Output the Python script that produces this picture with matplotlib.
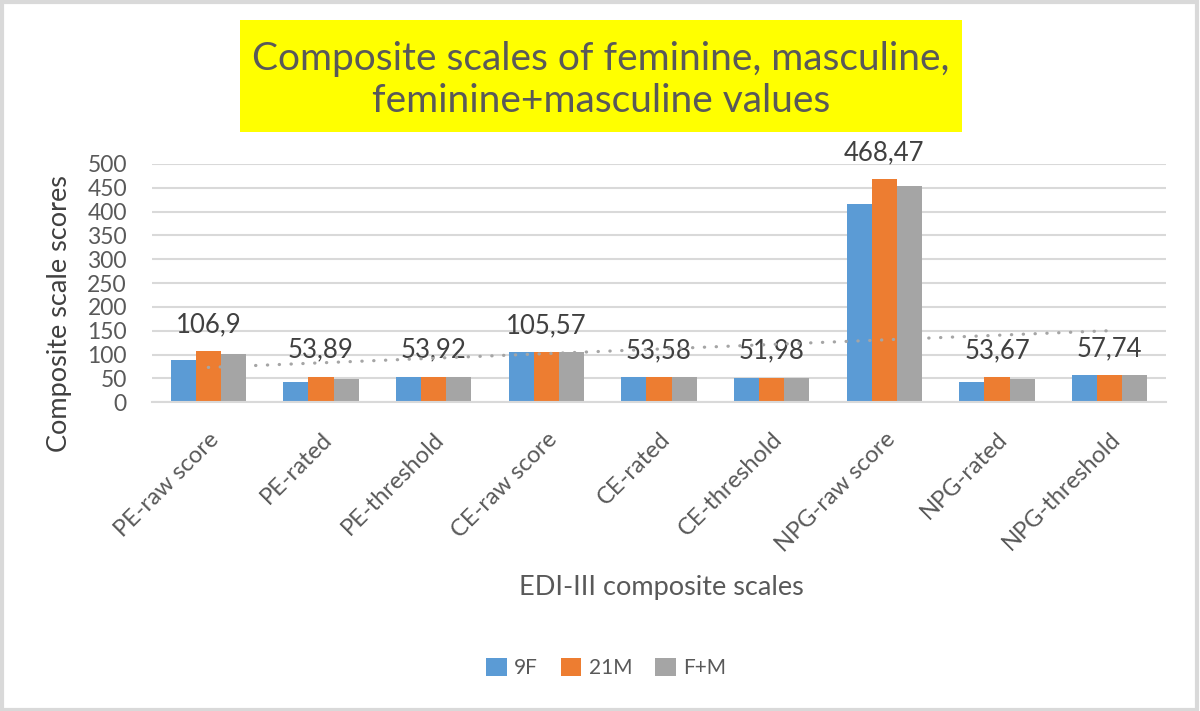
import numpy as np
import matplotlib
matplotlib.use("Agg")
import matplotlib.pyplot as plt
from matplotlib.patches import Rectangle

plt.rcParams['font.family'] = ['Lato', 'DejaVu Sans']

categories = ["PE-raw score", "PE-rated", "PE-threshold", "CE-raw score", "CE-rated",
              "CE-threshold", "NPG-raw score", "NPG-rated", "NPG-threshold"]
series_names = ["9F", "21M", "F+M"]
vals_9f = [89, 43.3, 53.92, 105.57, 53.58, 51.98, 416.6, 43.0, 57.74]
vals_21m = [106.9, 53.89, 53.92, 105.57, 53.58, 51.98, 468.47, 53.67, 57.74]
vals_fm = [100.8, 49.6, 53.92, 105.57, 53.58, 51.98, 453.0, 49.5, 57.74]
label_texts = ["106,9", "53,89", "53,92", "105,57", "53,58", "51,98", "468,47", "53,67", "57,74"]
yticks = [0, 50, 100, 150, 200, 250, 300, 350, 400, 450, 500]

colors = ["#5B9BD5", "#ED7D31", "#A5A5A5"]
txt = "#595959"

fig = plt.figure(figsize=(12, 7.11), dpi=100)
ax = fig.add_axes([152/1200, 1-402.3/711, (1166-152)/1200, (402.3-164)/711])

x = np.arange(len(categories))
w = 0.222
conts = []
for i, (vals, c, n) in enumerate(zip([vals_9f, vals_21m, vals_fm], colors, series_names)):
    b = ax.bar(x + (i-1)*w, vals, width=w, color=c, label=n, zorder=2)
    conts.append(b)

ax.bar_label(conts[1], labels=label_texts, padding=10, fontsize=18.5, color="#404040")

# linear trendline for 21M series
coef = np.polyfit(x, vals_21m, 1)
xt = np.array([x[0], x[-1]])
ax.plot(xt, np.polyval(coef, xt), color="#A5A5A5", lw=2.3,
        linestyle=(0, (0.1, 3.6)), dash_capstyle='round', zorder=3)

ax.set_xlim(-0.5, len(categories)-0.5)
ax.set_ylim(0, 500)
ax.set_yticks(yticks)
ax.yaxis.grid(True, color="#D9D9D9", lw=1.5, zorder=0)
ax.set_axisbelow(True)
for s in ["top", "right", "left"]:
    ax.spines[s].set_visible(False)
ax.spines["bottom"].set_color("#D9D9D9")
ax.spines["bottom"].set_linewidth(1.5)
ax.tick_params(axis='both', length=0, colors=txt)
ax.tick_params(axis='y', pad=18, labelsize=16.5)
ax.set_xticks(x)
ax.set_xticklabels(categories, rotation=45, ha='right', va='top', rotation_mode='anchor')
ax.tick_params(axis='x', pad=19, labelsize=17)

ax.set_ylabel("Composite scale scores", fontsize=19.5, color="#404040")
ax.yaxis.set_label_coords((72-152)/1014, (402.3-314)/238.3)
fig.text(661/1200, 1-588/711, "EDI-III composite scales", fontsize=19.5, color=txt,
         ha='center', va='center')

# title box
fig.patches.append(Rectangle((240/1200, 1-132/711), (962-240)/1200, (132-20)/711,
                             transform=fig.transFigure, facecolor="#FFFF00", edgecolor='none'))
fig.text(601/1200, 1-80/711, "Composite scales of feminine, masculine,\nfeminine+masculine values",
         fontsize=28, color=txt, ha='center', va='center', linespacing=1.2)

leg = fig.legend(loc='center', bbox_to_anchor=(606/1200, 1-668/711), ncol=3, frameon=False,
                 fontsize=15, handlelength=1.0, handleheight=1.0, handletextpad=0.35,
                 columnspacing=1.1, labelcolor=txt)

# outer border
fig.patches.append(Rectangle((0.0015, 0.002), 0.996, 0.995, transform=fig.transFigure,
                             facecolor='none', edgecolor="#D9D9D9", lw=3))

fig.savefig("out.png", dpi=100, facecolor="white")
